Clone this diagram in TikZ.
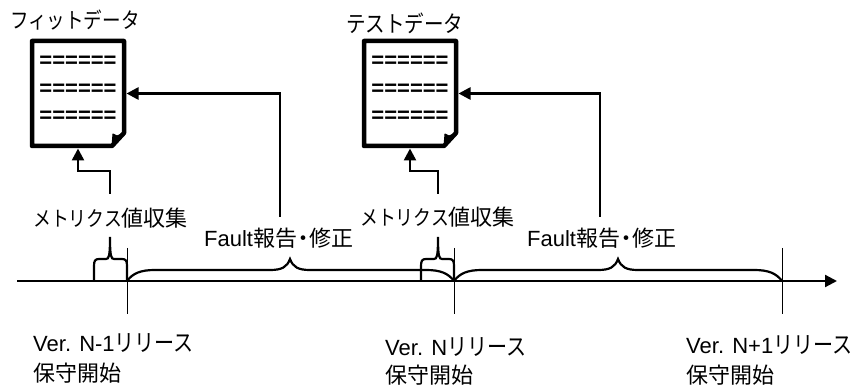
\documentclass[tikz,border=0pt]{standalone}
\usepackage{fontspec}
\setmainfont{Liberation Sans}
\newfontfamily\jp{Noto Sans CJK JP}
\newfontfamily\jpnarrow[FakeStretch=0.85]{Noto Sans CJK JP}
\newcommand{\kn}[2][21]{{\jpnarrow\fontsize{#1}{27}\selectfont #2}}
\usetikzlibrary{arrows.meta,positioning,calc}
\tikzset{
  docbox/.style={minimum width=92pt,minimum height=105pt,inner sep=0pt,outer sep=2.5pt},
  docline/.style={line width=4.5pt,line join=round},
  fold/.style={fill=black,draw=black,line width=1pt,line join=round},
  lines/.style={font=\fontsize{22}{27.5}\selectfont\bfseries,align=center,inner sep=0pt},
  arr/.style={-{Triangle[length=12pt,width=12pt]},line width=2.5pt},
  axisarr/.style={-{Triangle[length=12pt,width=12pt]},line width=2.2pt},
  brc/.style={line width=2.2pt},
  tick/.style={line width=1pt},
  lbl/.style={font=\fontsize{22}{27}\selectfont\jp,inner sep=0pt,anchor=west},
  rel/.style={font=\fontsize{22}{#1}\selectfont,align=left,inner sep=0pt,anchor=west},
}
\begin{document}
\begin{tikzpicture}[x=1pt,y=-1pt]
  \useasboundingbox (0,0) rectangle (856,387);
  % documents
  \foreach \nm/\px in {fit/78,test/410}{
    \node[docbox] (\nm doc) at (\px,93.5) {};
    \node[lines] (\nm txt) at (\px,89.5) {======\\======\\======};
    \draw[docline] (\px-46,41) -- (\px+46,41) -- (\px+46,133) -- (\px+34,146) -- (\px-46,146) -- cycle;
    \draw[fold] (\px+46,133) -- (\px+34,146) -- (\px+35,134) -- (\px+39,136) -- cycle;
  }
  \node[lbl] (fitname) at (10,20) {\kn[21.8]{フィットデータ}};
  \node[lbl] (testname) at (346,23) {\kn[23]{テストデータ}};
  % time axis
  \coordinate (axs) at (17,281);
  \coordinate (axe) at (837,281);
  \draw[axisarr] (axs) -- (axe);
  \foreach \nm/\px in {a/127,b/454,c/782}{
    \coordinate (\nm top) at (\px,248);
    \coordinate (\nm bot) at (\px,314);
    \draw[tick] (\nm top) -- (\nm bot);
  }
  % braces
  \foreach \l/\m/\r in {127/290/454,454/618/782}{
    \draw[brc] (\l,281) .. controls (\l+6,273) and (\l+14,270) .. (\l+28,270) -- (\m-20,270)
      .. controls (\m-8,270) and (\m-3,267) .. (\m,259)
      .. controls (\m+3,267) and (\m+8,270) .. (\m+20,270) -- (\r-28,270)
      .. controls (\r-14,270) and (\r-6,273) .. (\r,281);
  }
  \foreach \l/\m/\r in {94/110/127,421/438/454}{
    \draw[brc] (\l,281) -- (\l,266) .. controls (\l,261) and (\l+1,259) .. (\l+5,259) -- (\m-4,259)
      .. controls (\m-1,259) and (\m,256) .. (\m,237)
      .. controls (\m,256) and (\m+1,259) .. (\m+4,259) -- (\r-5,259)
      .. controls (\r-1,259) and (\r,261) .. (\r,266) -- (\r,281);
  }
  % labels
  \node[lbl] (fitcol) at (33,218) {\kn{メトリクス}値収集};
  \node[lbl] (testcol) at (360,217) {\kn{メトリクス}値収集};
  \node[lbl] (fitrep) at (204,238) {{\rmfamily Fault}報告\kern-5pt・\kern-5pt修正};
  \node[lbl] (testrep) at (527,238) {{\rmfamily Fault}報告\kern-5pt・\kern-5pt修正};
  \node[rel=30] (relA) at (33,358) {Ver. N-1\kn[23.6]{リリース}\\{\jp 保守開始}};
  \node[rel=28] (relB) at (385,361) {Ver. N\kn[23.6]{リリース}\\{\jp 保守開始}};
  \node[rel=30] (relC) at (686,360) {Ver. N+1\kn[23.6]{リリース}\\{\jp 保守開始}};
  % connectors
  \coordinate (fitup) at (110,194);
  \coordinate (testup) at (438,194);
  \coordinate (fitfix) at (280,217);
  \coordinate (testfix) at (600,217);
  \draw[arr] (fitup) -- (110,171) -| (fitdoc.south);
  \draw[arr] (testup) -- (438,171) -| (testdoc.south);
  \draw[arr] (fitfix) |- (fitdoc.east);
  \draw[arr] (testfix) |- (testdoc.east);
\end{tikzpicture}
\end{document}
